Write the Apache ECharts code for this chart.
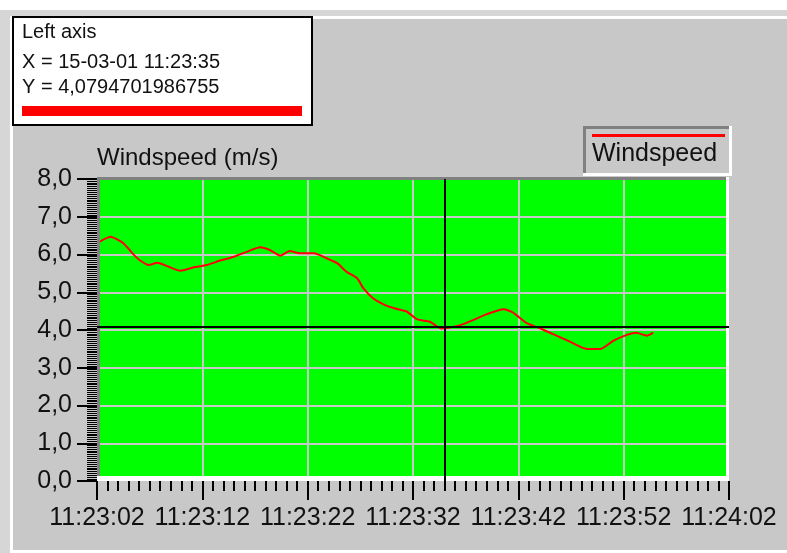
<!DOCTYPE html>
<html>
<head>
<meta charset="utf-8">
<script src="https://cdn.jsdelivr.net/npm/echarts@6/dist/echarts.min.js"></script>
<style>
  html, body { margin: 0; padding: 0; background: #ffffff; }
  #chart { width: 787px; height: 553px; }
</style>
</head>
<body>
<div id="chart"></div>
<script>
// seconds after 11:23:02
var seconds = [0, 1.3, 1.9, 2.5, 3.1, 3.5, 4.1, 4.9, 5.7, 6.6, 7.9, 9.2, 10.4, 11.7, 13.0, 14.2, 15.5,
  16.4, 17.4, 18.3, 19.3, 20.6, 21.8, 22.8, 23.7, 24.7, 25.3, 26.2, 27.2, 28.3, 29.4, 30.4, 31.6,
  32.7, 33.4, 34.5, 35.7, 37.0, 38.6, 39.5, 40.8, 42.1, 43.3, 44.9, 46.5, 47.8, 49.0, 50.3, 51.2,
  52.2, 52.8];
var windspeed = [6.30, 6.47, 6.40, 6.30, 6.12, 5.99, 5.84, 5.72, 5.78, 5.70, 5.57, 5.66, 5.72, 5.84,
  5.94, 6.07, 6.19, 6.12, 5.97, 6.09, 6.03, 6.03, 5.90, 5.77, 5.54, 5.37, 5.10, 4.84, 4.68, 4.57,
  4.49, 4.28, 4.22, 4.04, 4.06, 4.13, 4.26, 4.42, 4.55, 4.46, 4.18, 4.04, 3.89, 3.69, 3.50, 3.50,
  3.71, 3.87, 3.93, 3.85, 3.93];
var timeLabels = ["11:23:02", "11:23:12", "11:23:22", "11:23:32", "11:23:42", "11:23:52", "11:24:02"];

// cursor readout
var cursorSecond = 33;
var cursorDate = "15-03-01";
var cursorTime = "11:23:35";
var cursorValue = 4.0794701986755;

var chart = echarts.init(document.getElementById("chart"));
var font = "'Liberation Sans', Arial, sans-serif";
var panel = "#c8c8c8";

var lineData = seconds.map(function(s, i) {
  return [s, windspeed[i]];
});

var option = {
  backgroundColor: "#ffffff",
  animation: false,
  grid: {
    left: 97,
    top: 179,
    width: 632,
    height: 302,
    show: true,
    backgroundColor: "#00ff00",
    borderWidth: 0
  },
  xAxis: {
    type: "value",
    min: 0,
    max: 60,
    interval: 10,
    z: 2,
    axisLine: { show: false },
    axisTick: { show: true, length: 19, lineStyle: { color: "#000", width: 2 } },
    minorTick: { show: true, splitNumber: 10, length: 10, lineStyle: { color: "#000", width: 2 } },
    splitLine: { show: true, lineStyle: { color: panel, width: 2 } },
    axisLabel: {
      margin: 25,
      fontFamily: font,
      fontSize: 25,
      color: "#111",
      formatter: function(v) {
        return timeLabels[Math.round(v / 10)];
      }
    }
  },
  yAxis: {
    type: "value",
    min: 0,
    max: 8,
    interval: 1,
    z: 2,
    name: "Windspeed (m/s)",
    nameLocation: "end",
    nameGap: 21,
    nameTextStyle: {
      fontFamily: font,
      fontSize: 24,
      color: "#111",
      align: "left",
      verticalAlign: "middle"
    },
    axisLine: { show: false },
    axisTick: { show: true, length: 20, lineStyle: { color: "#000", width: 2 } },
    minorTick: { show: true, splitNumber: 20, length: 10, lineStyle: { color: "#000", width: 1 } },
    splitLine: { show: true, lineStyle: { color: panel, width: 2 } },
    axisLabel: {
      margin: 25,
      fontFamily: font,
      fontSize: 25,
      color: "#111",
      formatter: function(v) {
        return v.toFixed(1).replace(".", ",");
      }
    }
  },
  series: [
    {
      name: "Windspeed",
      type: "line",
      data: lineData,
      showSymbol: false,
      smooth: 0.2,
      lineStyle: { color: "#ff0000", width: 2 },
      itemStyle: { color: "#ff0000" },
      z: 3,
      markLine: {
        silent: true,
        symbol: "none",
        label: { show: false },
        lineStyle: { color: "#000", width: 2, type: "solid" },
        data: [{ xAxis: cursorSecond }, { yAxis: cursorValue }]
      }
    }
  ],
  graphic: [
    // panel frame
    { type: "rect", z: -10, shape: { x: 0, y: 10, width: 787, height: 543 }, style: { fill: "#d6d6d6" } },
    { type: "rect", z: -9, shape: { x: 10, y: 16, width: 777, height: 537 }, style: { fill: "#ffffff" } },
    { type: "rect", z: -8, shape: { x: 13, y: 19, width: 774, height: 531 }, style: { fill: panel } },
    // sunken plot border
    { type: "rect", z: 5, shape: { x: 97, y: 177, width: 632, height: 3 }, style: { fill: "#808080" } },
    { type: "rect", z: 5, shape: { x: 97, y: 177, width: 3, height: 304 }, style: { fill: "#808080" } },
    { type: "rect", z: 5, shape: { x: 97, y: 476, width: 632, height: 5 }, style: { fill: "#ffffff" } },
    { type: "rect", z: 5, shape: { x: 726, y: 177, width: 3, height: 304 }, style: { fill: "#ffffff" } },
    // legend
    { type: "rect", z: 5, shape: { x: 583, y: 126, width: 149, height: 50 }, style: { fill: "#ffffff" } },
    { type: "rect", z: 5, shape: { x: 583, y: 126, width: 146, height: 47 }, style: { fill: "#808080" } },
    { type: "rect", z: 5, shape: { x: 586, y: 129, width: 143, height: 44 }, style: { fill: panel } },
    { type: "rect", z: 6, shape: { x: 592, y: 134, width: 133, height: 3 }, style: { fill: "#ff0000" } },
    {
      type: "text", z: 6, left: 592, top: 142,
      style: { text: "Windspeed", font: "25px " + font, fill: "#111" }
    },
    // cursor readout box
    {
      type: "rect", z: 10,
      shape: { x: 13, y: 17, width: 299, height: 108 },
      style: { fill: "#ffffff", stroke: "#000", lineWidth: 2 }
    },
    {
      type: "text", z: 11, left: 22, top: 22,
      style: { text: "Left axis", font: "20px " + font, fill: "#111" }
    },
    {
      type: "text", z: 11, left: 22, top: 52,
      style: { text: "X = " + cursorDate + " " + cursorTime, font: "20px " + font, fill: "#111" }
    },
    {
      type: "text", z: 11, left: 22, top: 77,
      style: { text: "Y = " + String(cursorValue).replace(".", ","), font: "20px " + font, fill: "#111" }
    },
    { type: "rect", z: 11, shape: { x: 22, y: 106, width: 280, height: 10 }, style: { fill: "#ff0000" } }
  ]
};

chart.setOption(option);
</script>
</body>
</html>
